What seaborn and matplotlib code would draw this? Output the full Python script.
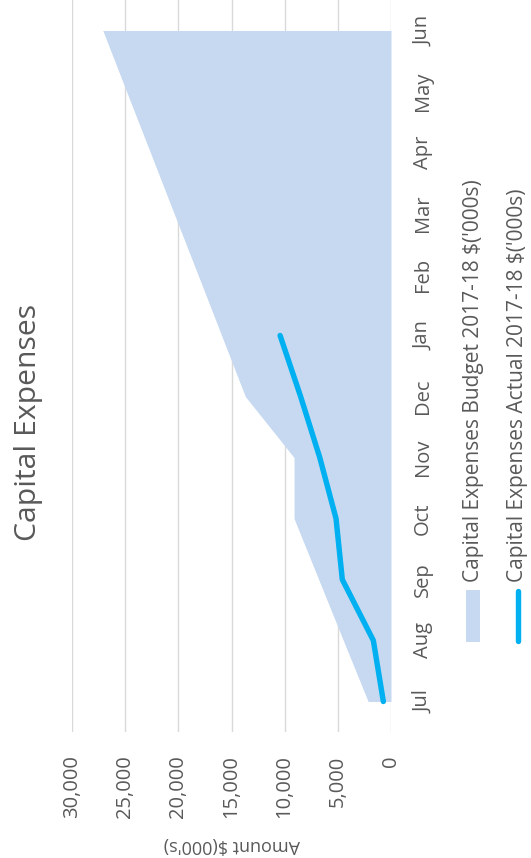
import matplotlib
matplotlib.use("Agg")
import matplotlib.pyplot as plt
from matplotlib.patches import Rectangle
from matplotlib.lines import Line2D
from matplotlib.ticker import FuncFormatter
import numpy as np
import pandas as pd
import seaborn as sns

# Financial year months, July to June
months = ["Jul", "Aug", "Sep", "Oct", "Nov", "Dec",
          "Jan", "Feb", "Mar", "Apr", "May", "Jun"]
# Cumulative budget, $'000s
budget = [2150, 4480, 6800, 9120, 9120, 13700,
          15930, 18160, 20400, 22630, 24870, 27100]
# Cumulative actual spend to date, $'000s
actual = [720, 1660, 4580, 5170, 6700, 8500, 10430]
value_ticks = [0, 5000, 10000, 15000, 20000, 25000, 30000]

budget_label = "Capital Expenses Budget 2017-18 $('000s)"
actual_label = "Capital Expenses Actual 2017-18 $('000s)"
title = "Capital Expenses"
value_label = "Amount $(000's)"

BUDGET_COLOR = "#C6D9F0"
ACTUAL_COLOR = "#00B0F0"
GRID_COLOR = "#D9D9D9"
TEXT_COLOR = "#595959"

sns.set_theme(style="white")
plt.rcParams["font.family"] = ["Open Sans", "DejaVu Sans"]

W, H = 531, 858
fig = plt.figure(figsize=(W / 100, H / 100), dpi=100)
fig.patch.set_facecolor("white")

def fx(px):
    return px / W

def fy(py):
    return 1 - py / H

# Chart is laid out sideways: months run up the vertical axis,
# amounts run right-to-left along the horizontal axis.
ax = fig.add_axes([fx(72), fy(732), fx(391) - fx(72), fy(0) - fy(732)])

pos = np.arange(len(months))
df_budget = pd.DataFrame({"month": months, "pos": pos, "budget": budget})
df_actual = pd.DataFrame({"month": months[:len(actual)],
                          "pos": pos[:len(actual)], "actual": actual})

ax.fill_betweenx(df_budget["pos"], 0, df_budget["budget"],
                 color=BUDGET_COLOR, linewidth=0, zorder=2)
sns.lineplot(data=df_actual, x="actual", y="pos", orient="y", sort=False,
             color=ACTUAL_COLOR, linewidth=3.9, solid_capstyle="round",
             ax=ax, zorder=3)

ax.set_xlim(30000, 0)
ax.set_ylim(-0.5, 11.5)
ax.set_xticks(value_ticks)
ax.xaxis.set_major_formatter(FuncFormatter(lambda v, p: f"{int(v):,}"))
ax.set_yticks(pos)
ax.set_yticklabels(months)
ax.yaxis.tick_right()

ax.grid(axis="x", color=GRID_COLOR, linewidth=1.0, zorder=1)
ax.grid(axis="y", visible=False)
for s in ax.spines.values():
    s.set_visible(False)

ax.tick_params(axis="x", length=0, pad=17, labelsize=14.5,
               labelcolor=TEXT_COLOR, labelrotation=90)
ax.tick_params(axis="y", length=0, pad=16, labelsize=14.5,
               labelcolor=TEXT_COLOR, labelrotation=90)
for t in ax.get_xticklabels():
    t.set_va("top")
    t.set_ha("center")
for t in ax.get_yticklabels():
    t.set_va("center")
    t.set_ha("left")

ax.set_xlabel(value_label, rotation=180, color=TEXT_COLOR, fontsize=13)
ax.xaxis.set_label_coords(0.5, -0.154)
ax.xaxis.label.set_va("center")
ax.set_ylabel("")

fig.text(fx(29), fy(422), title, rotation=90, ha="center", va="center",
         fontsize=21.7, color=TEXT_COLOR)

# Legend, stacked beside the month labels
fig.patches.append(Rectangle((fx(466), fy(642)), fx(480) - fx(466),
                             fy(590) - fy(642), transform=fig.transFigure,
                             facecolor=BUDGET_COLOR, edgecolor="none"))
fig.lines.append(Line2D([fx(518), fx(518)], [fy(641), fy(591)],
                        transform=fig.transFigure, color=ACTUAL_COLOR,
                        linewidth=3.9, solid_capstyle="round"))
fig.text(fx(473), fy(582), budget_label, rotation=90, ha="center",
         va="bottom", fontsize=15, color=TEXT_COLOR)
fig.text(fx(518), fy(582), actual_label, rotation=90, ha="center",
         va="bottom", fontsize=15, color=TEXT_COLOR)

fig.savefig("out.png", dpi=100, facecolor="white")
